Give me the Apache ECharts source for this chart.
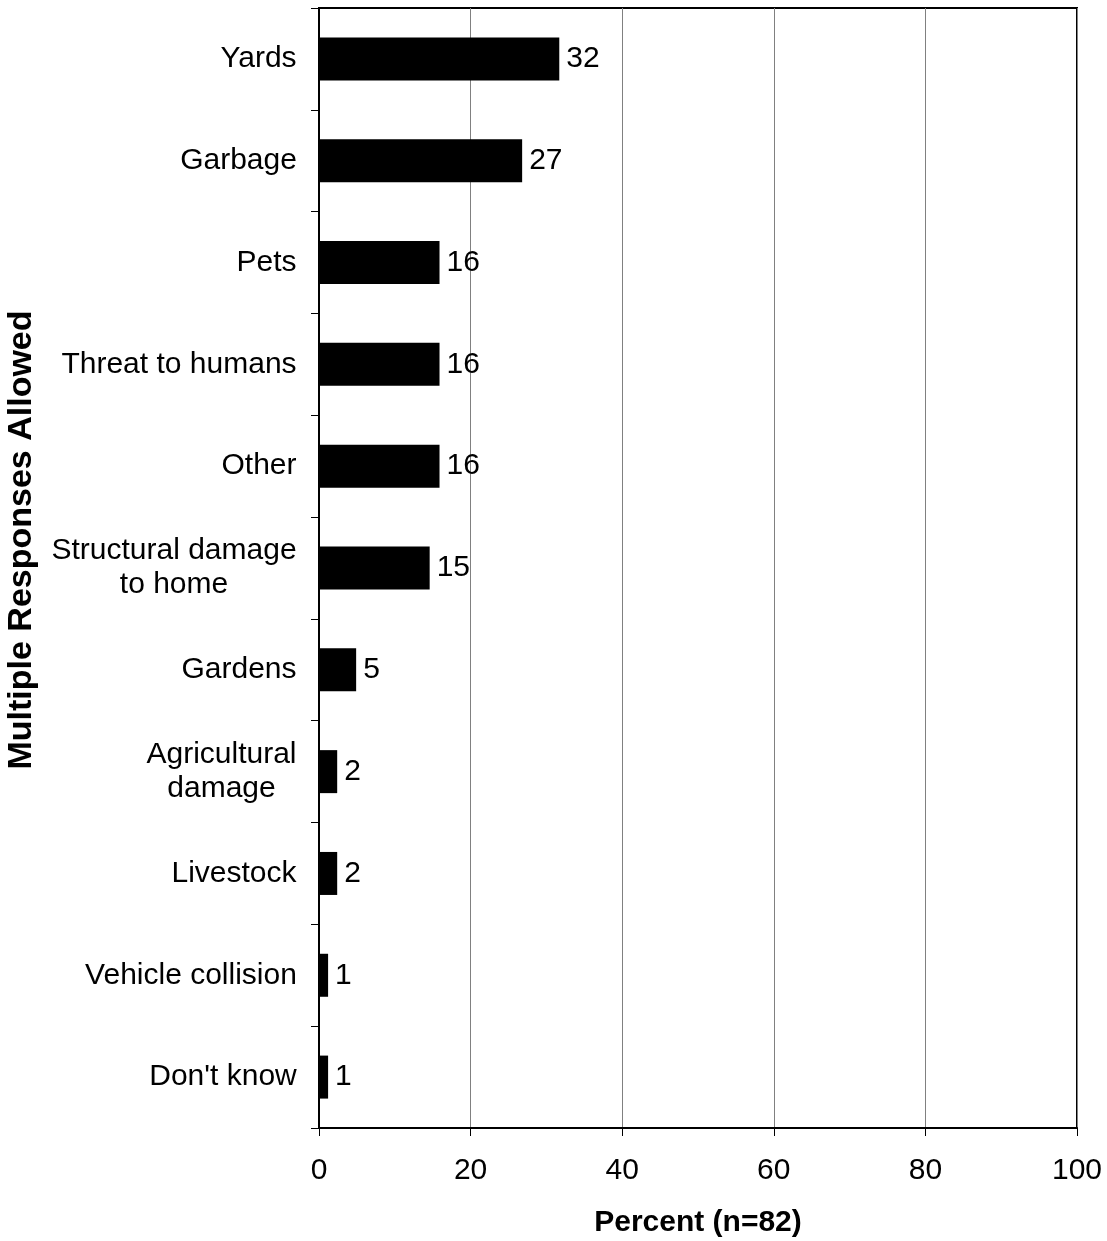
<!DOCTYPE html>
<html>
<head>
<meta charset="utf-8">
<script src="https://cdn.jsdelivr.net/npm/echarts@6/dist/echarts.min.js"></script>
<style>
  html, body { margin: 0; padding: 0; background: #fff; }
  #chart { width: 1107px; height: 1241px; }
</style>
</head>
<body>
<div id="chart"></div>
<script>
// categories top to bottom
var categories = ['Yards', 'Garbage', 'Pets', 'Threat to humans', 'Other',
  'Structural damage\nto home', 'Gardens', 'Agricultural\ndamage', 'Livestock',
  'Vehicle collision', "Don't know"];
// percent of n=82
var values = [31.7, 26.8, 15.9, 15.9, 15.9, 14.6, 4.9, 2.4, 2.4, 1.2, 1.2];
var xTicks = [0, 20, 40, 60, 80, 100];

var FONT = 'Liberation Sans, Arial, sans-serif';
var chart = echarts.init(document.getElementById('chart'));

// measure text so multi-line labels are centred inside their block
var ctx = document.createElement('canvas').getContext('2d');
ctx.font = '30px ' + FONT;
var rich = {};
categories.forEach(function (c, i) {
  var w = 0;
  c.split('\n').forEach(function (l) { w = Math.max(w, ctx.measureText(l).width); });
  rich['c' + i] = { width: Math.ceil(w), align: 'center', fontSize: 30, lineHeight: 34, fontFamily: FONT, color: '#000' };
});

var option = {
  animation: false,
  backgroundColor: '#fff',
  textStyle: { fontFamily: FONT, color: '#000' },
  grid: {
    left: 319, right: 30, top: 8, bottom: 113,
    show: true, borderColor: '#000', borderWidth: 2,
    containLabel: false, outerBoundsMode: 'none'
  },
  xAxis: {
    type: 'value',
    min: xTicks[0], max: xTicks[xTicks.length - 1], interval: 20,
    name: 'Percent (n=82)',
    nameLocation: 'middle',
    nameGap: 80,
    nameTextStyle: { fontSize: 30, fontWeight: 'bold', color: '#000', fontFamily: FONT },
    axisLine: { show: true, lineStyle: { color: '#000', width: 2 } },
    axisTick: { show: true, length: 8, lineStyle: { color: '#000', width: 1 } },
    axisLabel: { fontSize: 30, color: '#000', margin: 28, fontFamily: FONT },
    splitLine: { show: true, lineStyle: { color: '#808080', width: 1 } }
  },
  yAxis: {
    type: 'category',
    inverse: true,
    data: categories,
    name: 'Multiple Responses Allowed',
    nameLocation: 'middle',
    nameGap: 280,
    nameTextStyle: { fontSize: 34, fontWeight: 'bold', color: '#000', fontFamily: FONT, padding: [0, 0, 0, 56] },
    axisLine: { show: true, lineStyle: { color: '#000', width: 2 } },
    axisTick: { show: true, length: 8, lineStyle: { color: '#000', width: 1 } },
    axisLabel: {
      margin: 22,
      formatter: function (v, i) {
        return v.split('\n').map(function (l) { return '{c' + i + '|' + l + '}'; }).join('\n');
      },
      rich: rich
    },
    splitLine: { show: false }
  },
  series: [{
    type: 'bar',
    data: values,
    barWidth: 43,
    itemStyle: { color: '#000' },
    label: {
      show: true,
      position: 'right',
      distance: 7,
      fontSize: 30,
      color: '#000',
      fontFamily: FONT,
      formatter: function (p) { return Math.round(p.value); }
    }
  }]
};
chart.setOption(option);
</script>
</body>
</html>
